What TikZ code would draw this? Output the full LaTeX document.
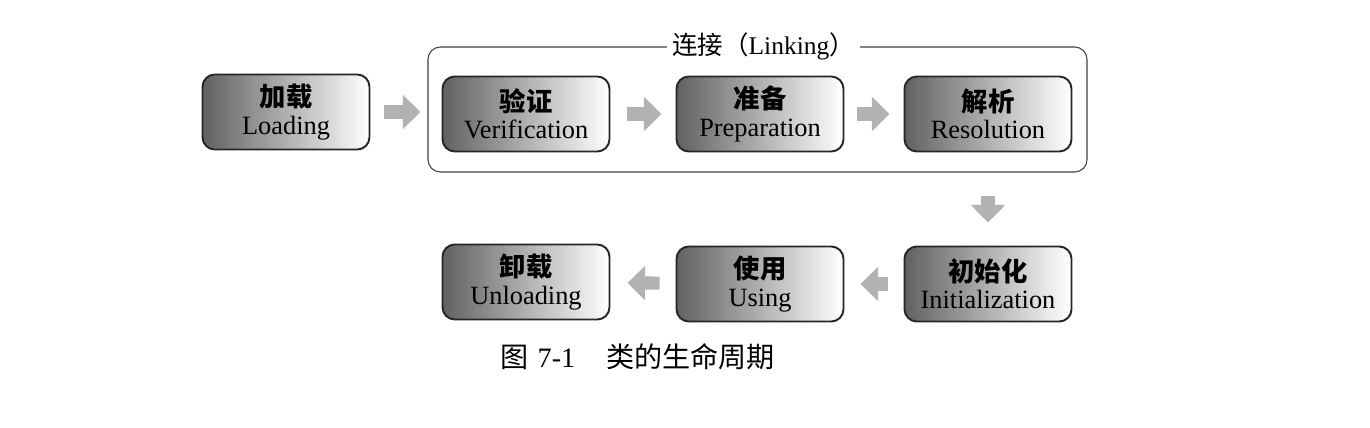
\documentclass[tikz,border=0pt]{standalone}
\usepackage{fontspec}
\setmainfont{Liberation Serif}
\newfontfamily\cjk{Noto Sans CJK SC}
\usepackage{tikz}
\usepackage{xcolor}
\usetikzlibrary{arrows.meta, positioning, calc}

\begin{document}
\begin{tikzpicture}[
  phase/.style={draw=black!85, line width=1.1pt, rounded corners=7pt,
    left color=black!62, right color=white, minimum width=3.34cm,
    minimum height=1.5cm, align=center, inner sep=2pt,
    font=\fontsize{15}{15.5}\selectfont},
  flow/.style={draw=black!30, line width=7.5pt,
    -{Triangle[length=10pt,width=19pt]}},
  zh/.style={font=\fontsize{14.5}{16}\selectfont}]
\useasboundingbox (0,0) rectangle (27.4,8.54);

% Linking frame
\node[draw=black!75, line width=0.6pt, rounded corners=7pt,
  minimum width=13.18cm, minimum height=2.5cm] (link) at (15.15,6.35) {};
\node[fill=white, inner sep=3pt, zh] (linktitle) at ([xshift=0.12cm]link.north)
  {{\cjk 连接（}Linking{\cjk ）}};

% Top row
\node[phase] (load) at (5.72,6.30) {{\cjk\bfseries 加载}\\Loading};
\node[phase] (verif) at (10.52,6.26) {{\cjk\bfseries 验证}\\Verification};
\node[phase] (prep) at (15.20,6.26) {{\cjk\bfseries 准备}\\Preparation};
\node[phase] (resol) at (19.76,6.26) {{\cjk\bfseries 解析}\\Resolution};

% Bottom row
\node[phase] (init) at (19.76,2.86) {{\cjk\bfseries 初始化}\\Initialization};
\node[phase] (using) at (15.20,2.86) {{\cjk\bfseries 使用}\\Using};
\node[phase] (unload) at (10.52,2.90) {{\cjk\bfseries 卸载}\\Unloading};

% Arrows
\draw[flow, shorten <=0.28cm, shorten >=0.14cm] (load) -- (link.west |- load);
\draw[flow, shorten <=0.34cm, shorten >=0.28cm] (verif) -- (prep);
\draw[flow, shorten <=0.26cm, shorten >=0.28cm] (prep) -- (resol);
\draw[flow, shorten <=0.46cm, shorten >=0.46cm] (link.south -| resol) -- (init);
\draw[flow, shorten <=0.32cm, shorten >=0.32cm] (init) -- (using);
\draw[flow, shorten <=0.32cm, shorten >=0.34cm] (using) -- (unload);

% Caption
\node[font=\fontsize{16}{18}\selectfont] (caption) at (12.75,1.40)
  {{\cjk 图}\,\,7-1\hspace{1.1em}{\cjk 类的生命周期}};
\end{tikzpicture}
\end{document}
